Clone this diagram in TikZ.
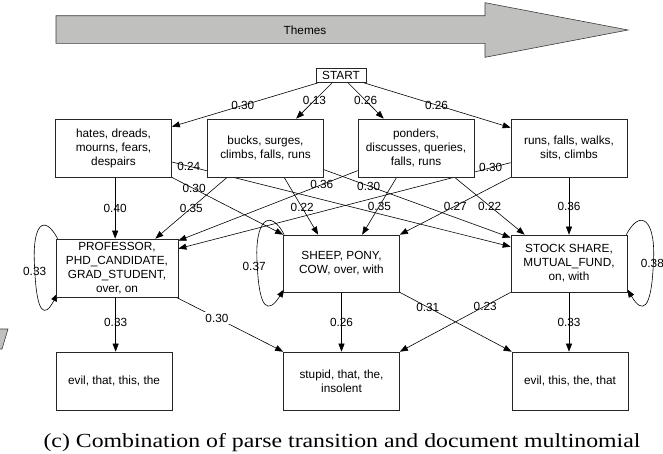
\documentclass[tikz,border=0pt]{standalone}
\usepackage{fontspec}
\setmainfont{Liberation Sans}
\newfontfamily\capfont{Liberation Serif}
\usetikzlibrary{arrows.meta,calc}
\definecolor{arrgray}{RGB}{192,193,191}
\definecolor{edgegray}{RGB}{60,60,60}
\pgfdeclarelayer{bg}
\pgfsetlayers{bg,main}
\newcommand{\fs}{\fontsize{11.8}{14}\selectfont}
\tikzset{
  box/.style={draw=black!85, line width=0.7pt, fill=white, minimum width=116pt,
    minimum height=58pt, align=center, inner sep=1pt, font=\fs},
  lbl/.style={font=\fs, inner sep=0.5pt},
  conn/.style={line width=0.6pt, -{Triangle[length=8pt,width=6pt]}},
}
\begin{document}
\begin{tikzpicture}[x=1pt,y=-1pt]
\useasboundingbox (0,0) rectangle (663,453);
\clip (0,0) rectangle (663,453);

% theme arrow
\draw[fill=arrgray, draw=edgegray, line width=0.6pt]
  (56,15.7) -- (485,15.7) -- (485,2.7) -- (628,30) -- (485,57.3) -- (485,43.3) -- (56,43.3) -- cycle;
\node[lbl] (themes) at (305,30) {Themes};

% fragment of neighbouring figure
\draw[fill=arrgray, draw=edgegray, line width=0.6pt]
  (-3,329) -- (8,329) -- (2,349) -- (-3,349) -- cycle;

% nodes
\node[draw=black!85, line width=0.7pt, fill=white, minimum width=50pt, minimum height=14pt, inner sep=0pt, font=\fs] (start) at (341,75) {START};

\node[box] (hates) at (113.5,148) {hates, dreads,\\ mourns, fears,\\ despairs};
\node[box] (bucks) at (265.5,148) {bucks, surges,\\ climbs, falls, runs};
\node[box] (ponders) at (416,148) {ponders,\\ discusses, queries,\\ falls, runs};
\node[box] (runs) at (569,148) {runs, falls, walks,\\ sits, climbs};

\node[box, minimum width=122pt] (prof) at (117,268) {PROFESSOR,\\ PHD\_CANDIDATE,\\ GRAD\_STUDENT,\\ over, on};
\node[box, minimum height=57pt] (sheep) at (341.5,263.5) {SHEEP, PONY,\\ COW, over, with};
\node[box, minimum height=57pt] (stock) at (569,263.5) {STOCK SHARE,\\ MUTUAL\_FUND,\\ on, with};

\node[box] (b1) at (114,381) {evil, that, this, the};
\node[box] (b2) at (341.5,381) {stupid, that, the,\\ insolent};
\node[box] (b3) at (570,381) {evil, this, the, that};

\begin{pgfonlayer}{bg}
% from START
\draw[conn] ($(start.south west)+(4,0)$) -- node[lbl,pos=.52]{0.30} ($(hates.north east)+(0,8)$);
\draw[conn] ($(start.south west)+(17,0)$) -- node[lbl,pos=.5]{0.13} ($(bucks.north west)+(89,0)$);
\draw[conn] ($(start.south west)+(32,0)$) -- node[lbl,pos=.5]{0.26} ($(ponders.north west)+(26,0)$);
\draw[conn] ($(start.south east)+(-4,0)$) -- node[lbl,pos=.5]{0.26} ($(runs.north west)+(0,9)$);

% from hates
\coordinate (h1) at ($(hates.south west)+(60,0)$);
\draw[conn] (h1) -- node[lbl,pos=.5]{0.40} (h1 |- prof.north);
\draw[conn] (hates.south east) -- node[lbl,pos=.2]{0.30} (sheep.north west);
\draw[conn] ($(hates.east)+(0,14)$) -- node[lbl,pos=.05]{0.24} ($(stock.north west)+(0,12)$);

% from bucks
\draw[conn] ($(bucks.south west)+(20,0)$) -- node[lbl,pos=.5]{0.35} ($(prof.north east)+(-23,0)$);
\draw[conn] ($(bucks.south west)+(77,0)$) -- node[lbl,pos=.53]{0.22} ($(sheep.north west)+(35,0)$);
\draw[conn] ($(bucks.north east)+(0,51)$) -- node[lbl,pos=.24]{0.30} ($(stock.north west)+(0,3)$);

% from ponders
\draw[conn] ($(ponders.north west)+(0,52)$) -- node[lbl,pos=.2]{0.36} ($(prof.north east)+(0,2)$);
\draw[conn] ($(ponders.south west)+(39,0)$) -- node[lbl,pos=.5]{0.35} ($(sheep.north west)+(79,0)$);
\draw[conn] ($(ponders.south west)+(97,0)$) -- node[lbl,pos=.5]{0.22} ($(stock.north west)+(14,0)$);

% from runs
\draw[conn] ($(runs.north west)+(0,44)$) -- node[lbl,pos=.06]{0.30} ($(prof.north east)+(0,10)$);
\draw[conn] (runs.south west) -- node[lbl,pos=.5]{0.27} (sheep.north east);
\draw[conn] (runs.south) -- node[lbl,pos=.5]{0.36} (stock.north);

% to bottom row
\coordinate (p1) at ($(prof.south west)+(60,0)$);
\draw[conn] (p1) -- node[lbl,pos=.47]{0.33} (p1 |- b1.north);
\draw[conn] ($(prof.south east)+(-2,0)$) -- node[lbl,fill=white,inner sep=1.5pt,pos=.38]{0.30} (b2.north west);
\draw[conn] (sheep.south) -- node[lbl,pos=.5]{0.26} (b2.north);
\draw[conn] (sheep.south east) -- node[lbl,pos=.25]{0.31} (b3.north west);
\draw[conn] (stock.south west) -- node[lbl,pos=.23]{0.23} (b2.north east);
\draw[conn] (stock.south) -- node[lbl,pos=.5]{0.33} (stock.south |- b3.north);

% self loops
\draw[conn] ($(prof.north west)+(2,0)$) .. controls ($(prof.north west)+(-12,-26)$) and ($(prof.west)+(-24,-43)$) .. ($(prof.west)+(-21,0)$)
  .. controls ($(prof.west)+(-19,47)$) and ($(prof.south west)+(-11,21)$) .. ($(prof.south west)+(2,-4)$);
\draw[conn] ($(sheep.north west)+(1,0)$) .. controls ($(sheep.north west)+(-13,-27)$) and ($(sheep.west)+(-29,-44)$) .. ($(sheep.west)+(-26,0)$)
  .. controls ($(sheep.west)+(-24,47)$) and ($(sheep.south west)+(-15,22)$) .. ($(sheep.south west)+(1,-3)$);
\draw[conn] ($(stock.north east)+(-1,0)$) .. controls ($(stock.north east)+(13,-27)$) and ($(stock.east)+(29,-44)$) .. ($(stock.east)+(26,0)$)
  .. controls ($(stock.east)+(24,47)$) and ($(stock.south east)+(15,22)$) .. ($(stock.south east)+(0,-3)$);
\end{pgfonlayer}
\node[lbl] (l1) at ($(prof.west)+(-21,3)$) {0.33};
\node[lbl] (l2) at ($(sheep.west)+(-29,3)$) {0.37};
\node[lbl] (l3) at ($(stock.east)+(25,0)$) {0.38};

% caption
\node[anchor=base, inner sep=0pt] (cap) at (342,447) {\scalebox{1.19}[1]{\capfont\fontsize{20}{24}\selectfont (c) Combination of parse transition and document multinomial}};
\end{tikzpicture}
\end{document}
